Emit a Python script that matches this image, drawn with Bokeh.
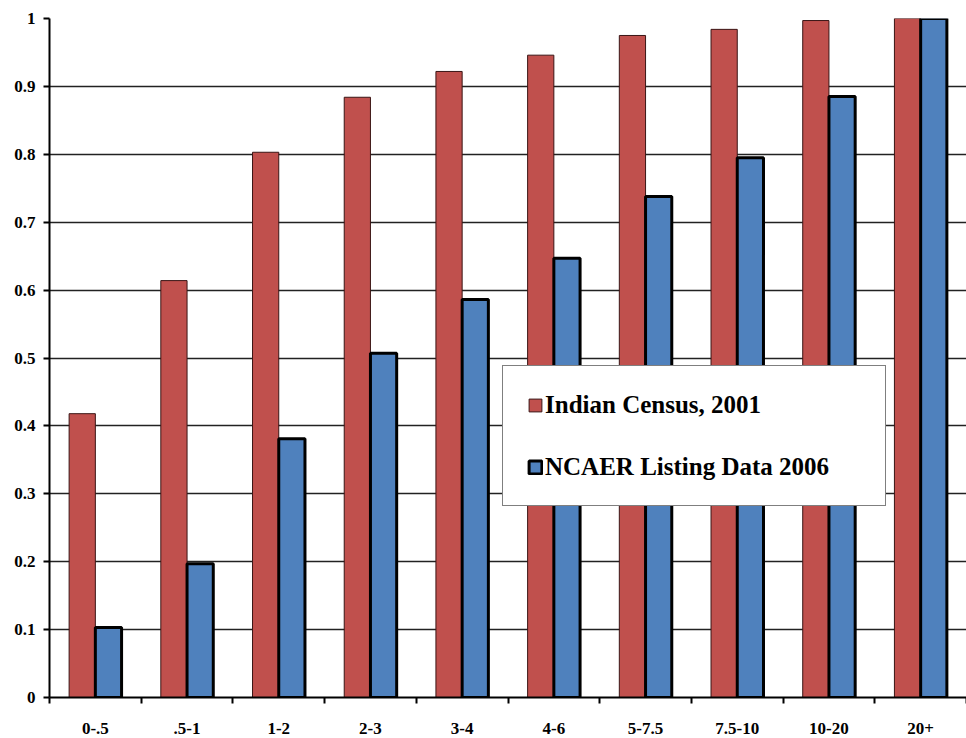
from bokeh.plotting import figure
from bokeh.models import (Range1d, LinearAxis, FixedTicker,
                          ColumnDataSource, Legend, LegendItem)
from bokeh.transform import dodge
from bokeh.embed import file_html
from bokeh.resources import INLINE

categories = ["0-.5", ".5-1", "1-2", "2-3", "3-4", "4-6", "5-7.5", "7.5-10", "10-20", "20+"]
census_2001 = [0.418, 0.614, 0.803, 0.884, 0.922, 0.946, 0.975, 0.984, 0.997, 1.0]
ncaer_2006 = [0.103, 0.197, 0.381, 0.507, 0.586, 0.647, 0.738, 0.795, 0.885, 1.0]
y_ticks = [0, 0.1, 0.2, 0.3, 0.4, 0.5, 0.6, 0.7, 0.8, 0.9, 1.0]
y_tick_labels = ["0", "0.1", "0.2", "0.3", "0.4", "0.5", "0.6", "0.7", "0.8", "0.9", "1"]

FONT = "Liberation Serif"

n = len(categories)
centers = [i + 0.5 for i in range(n)]
boundaries = list(range(n + 1))
src = ColumnDataSource(dict(xc=centers, census=census_2001, ncaer=ncaer_2006))

p = figure(x_range=Range1d(0, n), y_range=Range1d(0, 1),
           width=966, height=738, output_backend="svg", toolbar_location=None,
           x_axis_location=None, y_axis_location=None,
           min_border_left=49, min_border_right=0, min_border_top=18, min_border_bottom=41)
p.outline_line_color = None
p.background_fill_color = "white"
p.border_fill_color = "white"
p.xgrid.visible = False
p.ygrid.ticker = FixedTicker(ticks=y_ticks)
p.ygrid.grid_line_color = "#222222"
p.ygrid.grid_line_width = 1.3

r1 = p.vbar(x=dodge("xc", -0.143), top="census", width=0.286, source=src,
            fill_color="#C0504D", line_color="#3a1515", line_width=1)
r2 = p.vbar(x=dodge("xc", 0.143), top="ncaer", width=0.286, source=src,
            fill_color="#4F81BD", line_color="black", line_width=3)

# left axis
yax = LinearAxis(ticker=FixedTicker(ticks=y_ticks))
yax.major_label_overrides = {t: l for t, l in zip(y_ticks, y_tick_labels)}
yax.axis_line_color = "black"
yax.axis_line_width = 2
yax.major_tick_out = 6
yax.major_tick_in = 0
yax.major_tick_line_width = 2
yax.minor_tick_out = 0
yax.minor_tick_in = 0
yax.major_label_text_font = FONT
yax.major_label_text_font_style = "bold"
yax.major_label_text_font_size = "17px"
yax.major_label_text_color = "black"
yax.major_label_standoff = 8
p.add_layout(yax, "left")

# bottom axis: labels at category centres, ticks at category boundaries
xax = LinearAxis(ticker=FixedTicker(ticks=centers, minor_ticks=boundaries))
xax.major_label_overrides = {c: lab for c, lab in zip(centers, categories)}
xax.axis_line_color = "black"
xax.axis_line_width = 2
xax.major_tick_out = 0
xax.major_tick_in = 0
xax.major_tick_line_color = None
xax.minor_tick_out = 6
xax.minor_tick_in = 0
xax.minor_tick_line_color = "black"
xax.minor_tick_line_width = 2
xax.major_label_text_font = FONT
xax.major_label_text_font_style = "bold"
xax.major_label_text_font_size = "17px"
xax.major_label_text_color = "black"
xax.major_label_standoff = 19
p.add_layout(xax, "below")

legend = Legend(items=[LegendItem(label="Indian Census, 2001", renderers=[r1]),
                       LegendItem(label="NCAER Listing Data 2006", renderers=[r2])],
                location=(453, 191))
legend.label_text_font = FONT
legend.label_text_font_style = "bold"
legend.label_text_font_size = "25px"
legend.label_text_color = "black"
legend.label_height = 29
legend.label_width = 316
legend.label_standoff = 2
legend.glyph_width = 16
legend.glyph_height = 16
legend.spacing = 33
legend.padding = 24
legend.margin = 0
legend.border_line_color = "black"
legend.border_line_width = 1.5
legend.background_fill_color = "white"
legend.background_fill_alpha = 1
p.add_layout(legend, "center")

open("out.html", "w").write(file_html(p, INLINE))
